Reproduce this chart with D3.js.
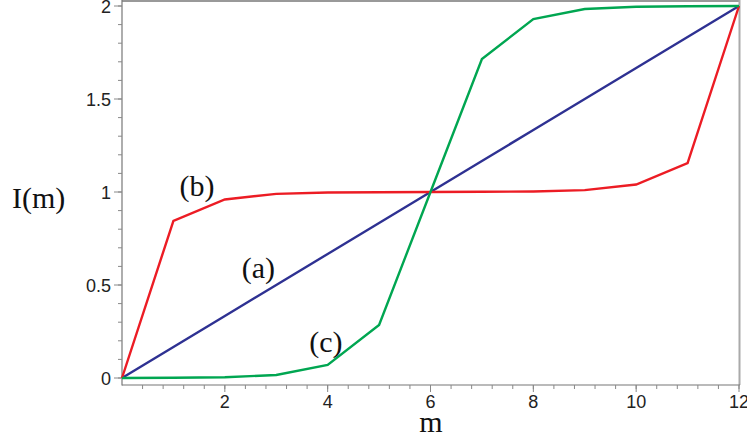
<!DOCTYPE html>
<html>
<head>
<meta charset="utf-8">
<script src="https://cdn.jsdelivr.net/npm/d3@7"></script>
<style>
  body { margin: 0; background: #fff; }
  svg { display: block; }
</style>
</head>
<body>
<script>
// m = 0..12
var mValues = [0, 1, 2, 3, 4, 5, 6, 7, 8, 9, 10, 11, 12];
var curveA = [0, 0.1667, 0.3333, 0.5, 0.6667, 0.8333, 1, 1.1667, 1.3333, 1.5, 1.6667, 1.8333, 2];
var curveB = [0, 0.845, 0.96, 0.99, 0.997, 0.999, 1, 1.001, 1.003, 1.01, 1.04, 1.155, 2];
var curveC = [0, 0.001, 0.004, 0.016, 0.07, 0.285, 1, 1.715, 1.93, 1.984, 1.996, 1.999, 2];
var xTicks = [2, 4, 6, 8, 10, 12];
var yTicks = [0, 0.5, 1, 1.5, 2];

var width = 747, height = 438;
var x0 = 122, x1 = 739, y0 = 378, y1 = 6;

var svg = d3.select("body").append("svg")
    .attr("width", width)
    .attr("height", height);

var x = d3.scaleLinear().domain([0, 12]).range([x0, x1]);
var y = d3.scaleLinear().domain([0, 2]).range([y0, y1]);

// frame: top and right in light gray
svg.append("line").attr("x1", x0).attr("x2", x1 + 1).attr("y1", 1).attr("y2", 1)
    .attr("stroke", "#999").attr("stroke-width", 2);
svg.append("line").attr("x1", x1 + 0.5).attr("x2", x1 + 0.5).attr("y1", 0).attr("y2", 385)
    .attr("stroke", "#aaa").attr("stroke-width", 2);

// y axis
var yAxis = svg.append("g").attr("transform", "translate(" + x0 + ",0)");
yAxis.append("line").attr("x1", 0).attr("x2", 0).attr("y1", 0).attr("y2", 385.5)
    .attr("stroke", "#777").attr("stroke-width", 1.2);
yAxis.selectAll(".minor").data(d3.range(0, 2.01, 0.1)).enter().append("line")
    .attr("x1", -4).attr("x2", 0)
    .attr("y1", d => y(d)).attr("y2", d => y(d))
    .attr("stroke", "#888");
yAxis.selectAll(".major").data(yTicks).enter().append("line")
    .attr("x1", -8).attr("x2", 0)
    .attr("y1", d => y(d)).attr("y2", d => y(d))
    .attr("stroke", "#888");
yAxis.selectAll("text").data(yTicks).enter().append("text")
    .attr("x", -11).attr("y", d => y(d) + 6.5)
    .attr("text-anchor", "end")
    .style("font-family", "'Liberation Sans', Arial, sans-serif")
    .style("font-size", "18px")
    .attr("fill", "#222")
    .text(d => d);

// x axis
var xAxis = svg.append("g").attr("transform", "translate(0,385)");
xAxis.append("line").attr("x1", x0).attr("x2", x1 + 1).attr("y1", 0).attr("y2", 0)
    .attr("stroke", "#777").attr("stroke-width", 1.2);
xAxis.selectAll(".minor").data(d3.range(0.4, 12.01, 0.4)).enter().append("line")
    .attr("x1", d => x(d)).attr("x2", d => x(d))
    .attr("y1", 0).attr("y2", 4)
    .attr("stroke", "#888");
xAxis.selectAll(".major").data(xTicks).enter().append("line")
    .attr("x1", d => x(d)).attr("x2", d => x(d))
    .attr("y1", 0).attr("y2", 7)
    .attr("stroke", "#888");
xAxis.selectAll("text").data(xTicks).enter().append("text")
    .attr("x", d => x(d)).attr("y", 23)
    .attr("text-anchor", "middle")
    .style("font-family", "'Liberation Sans', Arial, sans-serif")
    .style("font-size", "18px")
    .attr("fill", "#222")
    .text(d => d);

// curves
var line = d3.line()
    .x((d, i) => x(mValues[i]))
    .y(d => y(d));

svg.append("path").datum(curveA).attr("d", line)
    .attr("fill", "none").attr("stroke", "#2e3192").attr("stroke-width", 2.4);
svg.append("path").datum(curveB).attr("d", line)
    .attr("fill", "none").attr("stroke", "#ec1c24").attr("stroke-width", 2.4);
svg.append("path").datum(curveC).attr("d", line)
    .attr("fill", "none").attr("stroke", "#00a651").attr("stroke-width", 2.4);

// labels
var serif = "'Liberation Serif', 'Times New Roman', serif";
var notes = [["(a)", 2.33, 0.54], ["(b)", 1.12, 0.98], ["(c)", 3.64, 0.14]];
svg.selectAll(".note").data(notes).enter().append("text")
    .attr("x", d => x(d[1])).attr("y", d => y(d[2]))
    .style("font-family", serif)
    .style("font-size", "30px")
    .attr("fill", "#111")
    .text(d => d[0]);

svg.append("text")
    .attr("x", 431).attr("y", 432)
    .attr("text-anchor", "middle")
    .style("font-family", serif)
    .style("font-size", "30px")
    .attr("fill", "#111")
    .text("m");

svg.append("text")
    .attr("x", 12).attr("y", 208)
    .style("font-family", serif)
    .style("font-size", "30px")
    .attr("fill", "#111")
    .text("I(m)");
</script>
</body>
</html>
